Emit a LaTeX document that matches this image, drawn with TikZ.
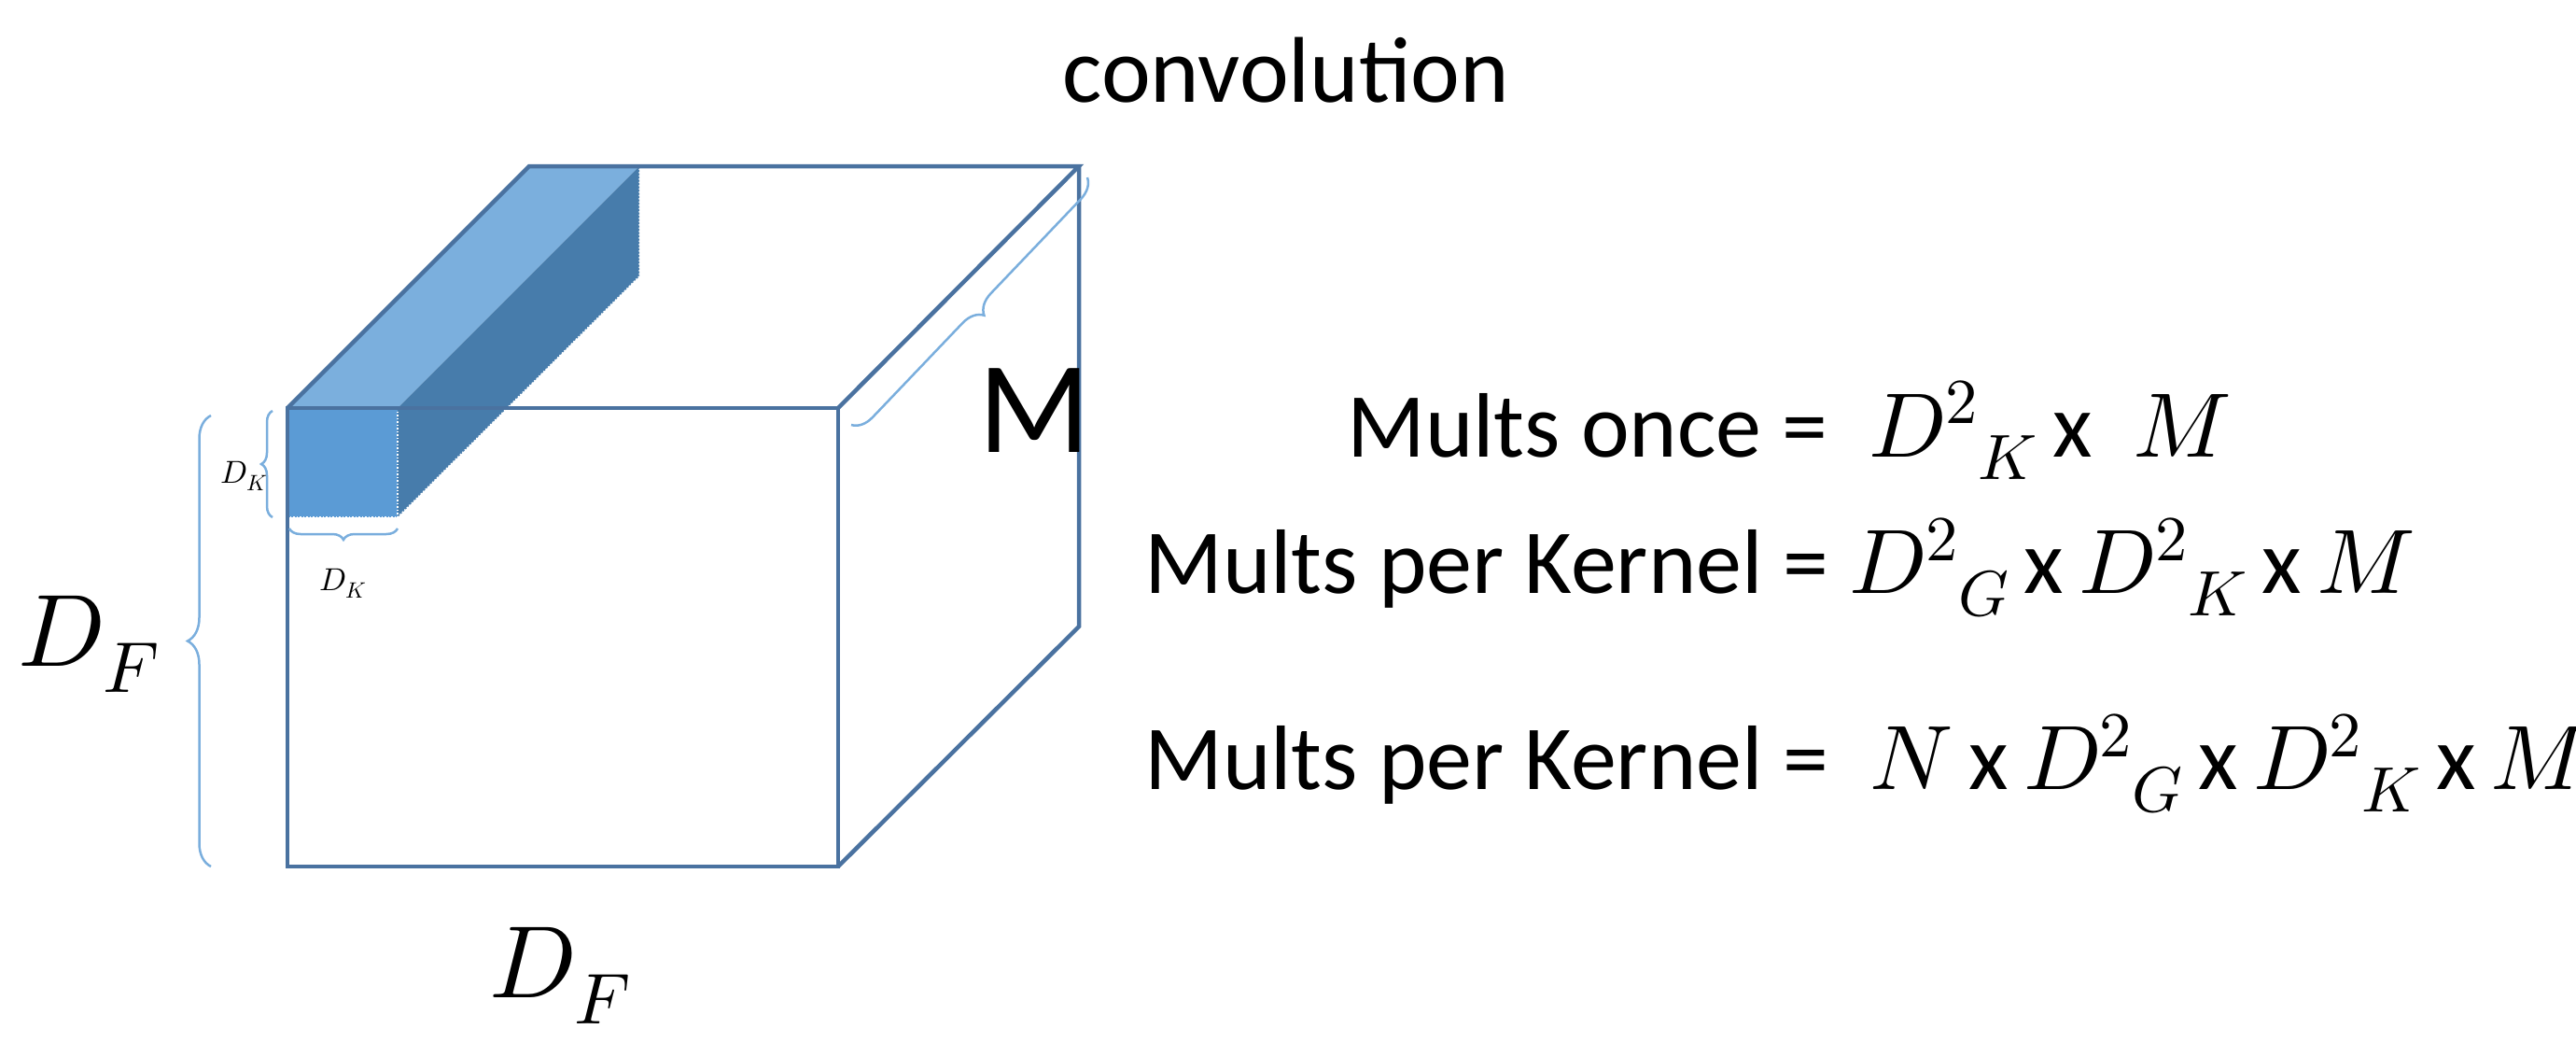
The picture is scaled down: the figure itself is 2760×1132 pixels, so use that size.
\documentclass[tikz,border=0pt]{standalone}
\usepackage{unicode-math}
\setmainfont{Carlito}
\setmathfont{Latin Modern Math}
\usetikzlibrary{decorations.pathreplacing}
\definecolor{edge}{HTML}{4A72A0}
\definecolor{brc}{HTML}{7AAEDD}
\definecolor{lt}{HTML}{7BAFDD}
\definecolor{dk}{HTML}{477CAB}
\definecolor{fr}{HTML}{5B9BD5}
\begin{document}
\begin{tikzpicture}[x=1pt,y=-1pt,
  edg/.style={draw=edge,line width=4.5pt,line join=miter},
  br/.style={draw=brc,line width=2.5pt,decorate,decoration={brace,amplitude=#1}},
  eq/.style={anchor=west,font=\fontsize{98}{110}\selectfont,inner sep=0}]
\useasboundingbox (0,0) rectangle (2760,1132);
% coordinates
\coordinate (A) at (308,437); \coordinate (B) at (898,437);
\coordinate (C) at (898,928); \coordinate (D) at (308,928);
\coordinate (E) at (567,178); \coordinate (F) at (1156,178);
\coordinate (G) at (1156,671);
\coordinate (k1) at (426,437); \coordinate (k2) at (685,178);
\coordinate (k3) at (685,296); \coordinate (k4) at (426,554);
\coordinate (k5) at (308,554);
% bar
\fill[lt] (A) -- (E) -- (k2) -- (k1) -- cycle;
\fill[dk] (k1) -- (k2) -- (k3) -- (k4) -- cycle;
\fill[fr] (A) -- (k1) -- (k4) -- (k5) -- cycle;
\draw[white,line width=1.5pt,dotted] (k1) -- (k4) -- (k5);
\draw[white,line width=1.5pt,dotted] (k4) -- (k3) -- (k2);
% cube
\draw[edg] (A) -- (B) -- (C) -- (D) -- cycle;
\draw[edg] (A) -- (E) -- (F) -- (B);
\draw[edg] (F) -- (G) -- (C);
% braces
\coordinate (b1) at (226,928); \coordinate (b2) at (226,445);
\draw[br=25pt] (b1) -- (b2);
\coordinate (d1) at (292,554); \coordinate (d2) at (292,440);
\draw[br=12pt] (d1) -- (d2);
\coordinate (e1) at (310,566); \coordinate (e2) at (426,566);
\draw[br=12pt,decoration={mirror}] (e1) -- (e2);
\coordinate (m1) at (912,455); \coordinate (m2) at (1165,190);
\draw[br=22pt,decoration={mirror}] (m1) -- (m2);
% labels
\node[font=\fontsize{110}{120}\selectfont] (lDF) at (95,690) {$D_F$};
\node[font=\fontsize{110}{120}\selectfont] (bDF) at (600,1045) {$D_F$};
\node[font=\fontsize{34}{40}\selectfont] (lDK) at (262,510) {$D_K$};
\node[font=\fontsize{34}{40}\selectfont] (bDK) at (368,625) {$D_K$};
\node[font=\fontsize{140}{150}\selectfont] (lM) at (1108,440) {M};
\node[font=\fontsize{100}{110}\selectfont] (title) at (1378,75) {convolution};
\node[eq] (e1t) at (1443,461) {Mults once = \ $D^{2}{}_{K}$\,x\ \ $M$};
\node[eq] (e2t) at (1226,608) {Mults per Kernel = $D^{2}{}_{G}$\,x\,$D^{2}{}_{K}$\,x\,$M$};
\node[eq] (e3t) at (1226,818) {Mults per Kernel = \ $N$\,x\,$D^{2}{}_{G}$\,x\,$D^{2}{}_{K}$\,x\,$M$};
\end{tikzpicture}
\end{document}
